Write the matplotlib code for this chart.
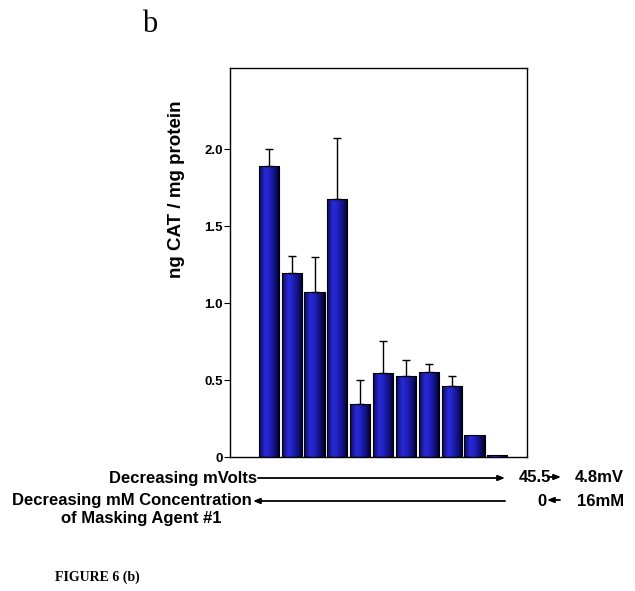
import numpy as np
import matplotlib
matplotlib.use("Agg")
import matplotlib.pyplot as plt
from matplotlib.colors import LinearSegmentedColormap
from matplotlib.patches import FancyArrowPatch

values = [1.89, 1.195, 1.071, 1.677, 0.346, 0.545, 0.528, 0.552, 0.463, 0.143, 0.011]
err_top = [2.006, 1.31, 1.30, 2.074, 0.50, 0.753, 0.63, 0.604, 0.528, None, None]
ytick_vals = [0, 0.5, 1.0, 1.5, 2.0]
ytick_labels = ["0", "0.5", "1.0", "1.5", "2.0"]

fig = plt.figure(figsize=(6.35, 5.91), dpi=100)
W, H = 635, 591
ax = fig.add_axes([230 / W, 1 - 457 / H, (527 - 230) / W, (457 - 68) / H])

x = np.arange(len(values))
width = 0.88
bars = ax.bar(x, values, width=width, color="none", edgecolor="black", linewidth=0.8, zorder=3)

cmap = LinearSegmentedColormap.from_list(
    "cyl", [(0.0, "#0a0a55"), (0.3, "#2a2ad8"), (0.5, "#2222c4"), (0.8, "#0e0e70"), (1.0, "#000018")])
grad = np.linspace(0, 1, 256).reshape(1, -1)
for b in bars:
    x0, y0 = b.get_x(), b.get_y()
    w, h = b.get_width(), b.get_height()
    im = ax.imshow(grad, cmap=cmap, aspect="auto", extent=[x0, x0 + w, y0, y0 + h], zorder=2)
    im.set_clip_path(b)

idx = [i for i, e in enumerate(err_top) if e is not None]
vals_i = np.array([values[i] for i in idx])
up = np.array([err_top[i] - values[i] for i in idx])
ax.errorbar(x[idx], vals_i, yerr=[np.zeros(len(idx)), up],
            fmt="none", ecolor="black", elinewidth=1.0, capsize=2.6, capthick=1.0, zorder=4)

ax.set_xlim(-1.70, 11.3)
ax.set_ylim(0, 2.53)
ax.set_xticks([])
ax.set_yticks(ytick_vals)
ax.set_yticklabels(ytick_labels, fontfamily="Liberation Sans", fontweight="bold", fontsize=9.5)
ax.tick_params(axis="y", direction="out", length=4, width=0.8, pad=1)
for s in ax.spines.values():
    s.set_linewidth(1.0)
ax.set_ylabel("ng CAT / mg protein", fontfamily="Liberation Sans", fontweight="bold", fontsize=13.5,
              va="center")
ax.yaxis.set_label_coords((176 - 230) / (527 - 230), (457 - 189) / (457 - 68))

fs = 12
tk = dict(fontfamily="Liberation Sans", fontweight="bold", fontsize=fs, va="center")

fig.text(257 / W, 1 - 478 / H, "Decreasing mVolts", ha="right", **tk)
fig.text(519 / W, 1 - 478 / H, "45.5", ha="left", **tk)
fig.text(624 / W, 1 - 478 / H, "4.8mV", ha="right", **tk)
fig.text(252 / W, 1 - 501 / H, "Decreasing mM Concentration", ha="right", **tk)
fig.text(141 / W, 1 - 519 / H, "of Masking Agent #1", ha="center", **tk)
fig.text(547 / W, 1 - 501 / H, "0", ha="right", **tk)
fig.text(624 / W, 1 - 501 / H, "16mM", ha="right", **tk)


def arrow(x1, x2, y):
    fig.add_artist(FancyArrowPatch(
        (x1 / W, 1 - y / H), (x2 / W, 1 - y / H), transform=fig.transFigure,
        arrowstyle="-|>,head_length=4,head_width=1.6", color="black", linewidth=1.3,
        shrinkA=0, shrinkB=0))


arrow(258, 505, 478)
arrow(548, 561, 477)
arrow(505, 253, 501)
arrow(560, 547, 500)

fig.text(55 / W, 1 - 577 / H, "FIGURE 6 (b)", ha="left", va="center",
         fontfamily="Liberation Serif", fontweight="bold", fontsize=10)
fig.text(150 / W, 1 - 24 / H, "b", ha="center", va="center",
         fontfamily="Liberation Serif", fontsize=22)

fig.savefig("out.png", dpi=100, facecolor="white")
